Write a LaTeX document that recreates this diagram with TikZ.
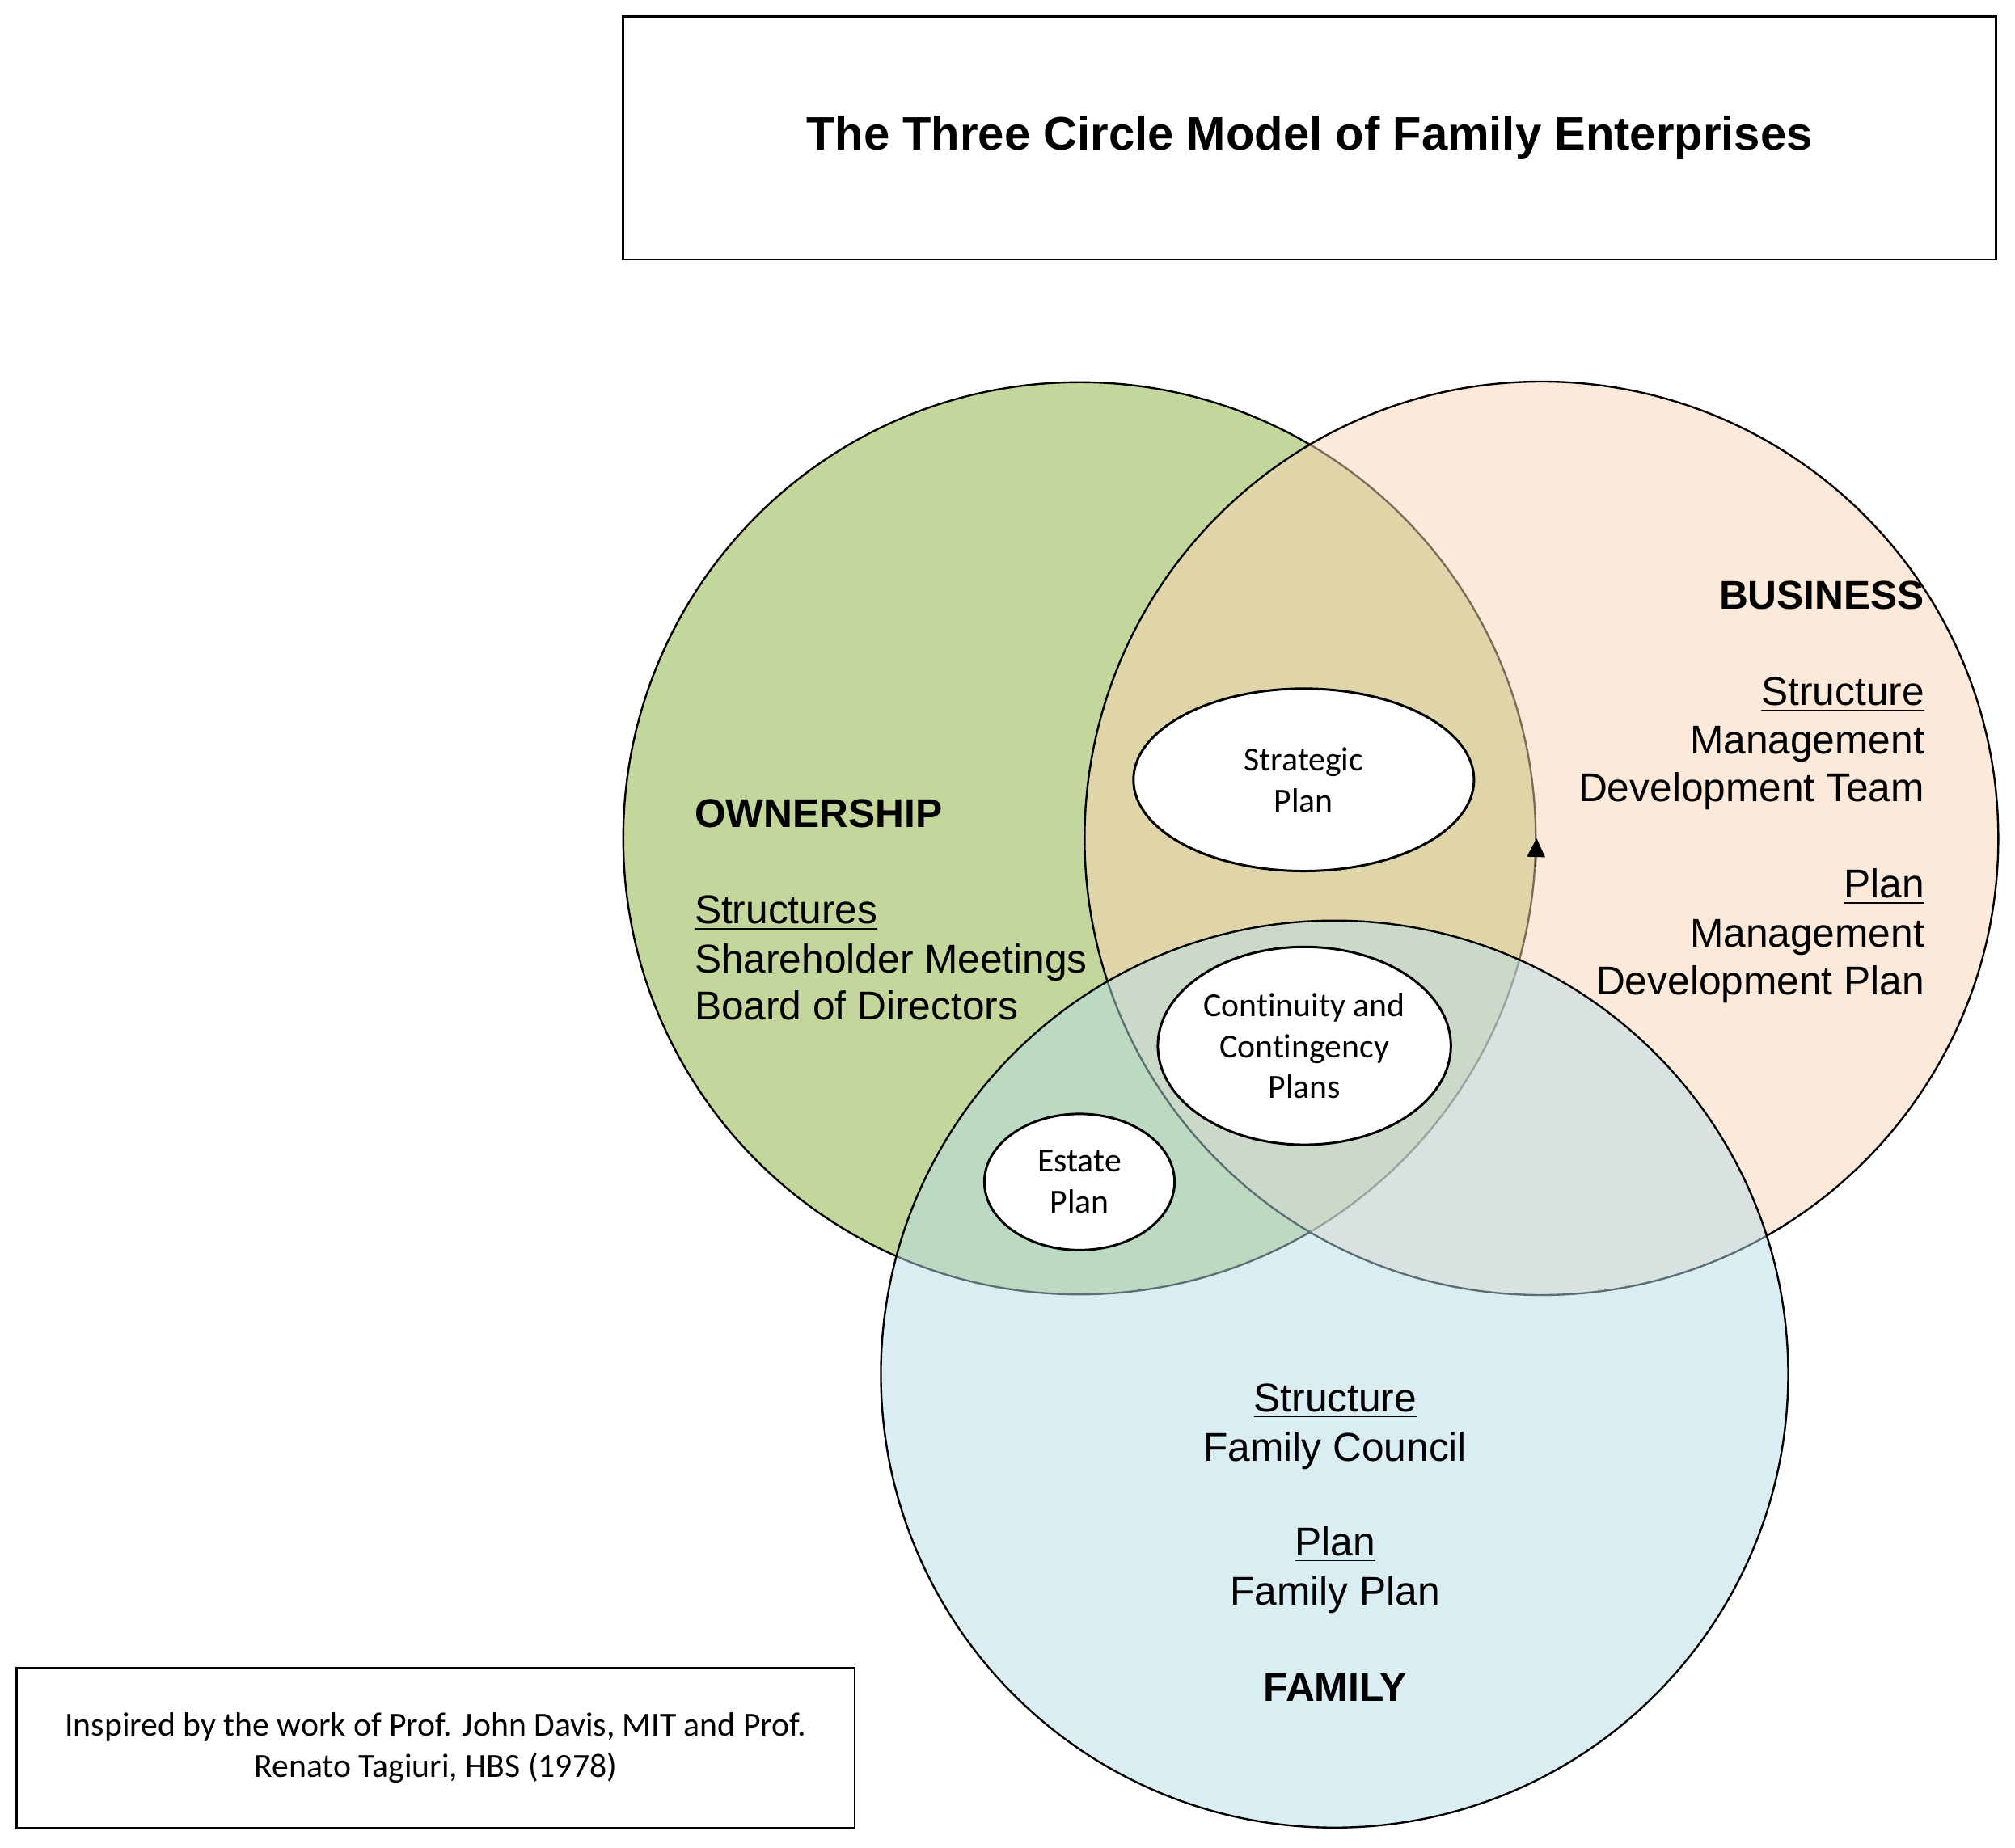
\documentclass[tikz,border=0pt]{standalone}
\usepackage{fontspec}
\setmainfont{Liberation Sans}
\newfontfamily\calib[Ligatures=NoCommon]{Carlito}
\usetikzlibrary{shapes.geometric,arrows.meta}
\definecolor{owngreen}{HTML}{C3D69B}
\definecolor{buspeach}{HTML}{FCD5B5}
\definecolor{famblue}{HTML}{B6DDE8}
\begin{document}
\begin{tikzpicture}[x=0.4pt,y=-0.4pt,
  big/.style={circle,draw=black,line width=0.6pt,inner sep=0pt},
  plan/.style={ellipse,draw=black,line width=0.75pt,fill=white,inner sep=0pt,align=center,font=\calib\fontsize{10.5}{12.8}\selectfont},
  frame/.style={rectangle,draw=black,line width=0.7pt,inner sep=0pt},
  lbl/.style={inner sep=0pt,font=\fontsize{12.5}{15}\selectfont},
  hdr/.style={inner sep=0pt,font=\bfseries\fontsize{12.5}{15}\selectfont}]
\fill[white] (0,0) rectangle (1568,1437.8);
\useasboundingbox (0,0) rectangle (1568,1437.8);

\node[frame,minimum width=427.2pt,minimum height=75.6pt,font=\bfseries\fontsize{14.6}{17}\selectfont] (title) at (1019,107.5) {The Three Circle Model of Family Enterprises};

\node[big,fill=owngreen,minimum size=284pt] (own) at (840,652.5) {};
\node[big,fill=buspeach,fill opacity=0.5,minimum size=284.4pt] (bus) at (1199.5,652.5) {};
\node[big,fill=famblue,fill opacity=0.5,minimum size=282.4pt] (fam) at (1038.5,1069.5) {};

\coordinate (arrowtail) at (1195,675);
\draw[line width=0.4pt,-{Triangle[length=5.8pt,width=5.6pt]}] (arrowtail) -- (own.east);

\node[plan,minimum width=106pt,minimum height=56.8pt] (strat) at (1014.5,607) {Strategic\\Plan};
\node[plan,minimum width=91.2pt,minimum height=61.6pt] (cont) at (1015,814) {Continuity and\\Contingency\\Plans};
\node[plan,minimum width=59.2pt,minimum height=42.4pt] (est) at (840,920) {Estate\\Plan};

\node[hdr,anchor=base west] (ownh) at (540,644) {OWNERSHIP};
\node[lbl,anchor=base west] (owns) at (540,719) {\underline{Structures}};
\node[lbl,anchor=base west] (owna) at (540,757) {Shareholder Meetings};
\node[lbl,anchor=base west] (ownb) at (540,794) {Board of Directors};

\node[hdr,anchor=base east] (bush) at (1498,474) {BUSINESS};
\node[lbl,anchor=base east] (buss) at (1498,549) {\underline{Structure}};
\node[lbl,anchor=base east] (busa) at (1498,587) {Management};
\node[lbl,anchor=base east] (busb) at (1498,624) {Development Team};
\node[lbl,anchor=base east] (busp) at (1498,699) {\underline{Plan}};
\node[lbl,anchor=base east] (busc) at (1498,737) {Management};
\node[lbl,anchor=base east] (busd) at (1498,774) {Development Plan};

\node[lbl,anchor=base] (fams) at (1039,1099) {\underline{Structure}};
\node[lbl,anchor=base] (fama) at (1039,1137) {Family Council};
\node[lbl,anchor=base] (famp) at (1039,1211) {\underline{Plan}};
\node[lbl,anchor=base] (famb) at (1039,1249) {Family Plan};
\node[hdr,anchor=base] (famh) at (1039,1324) {FAMILY};

\node[frame,minimum width=260.8pt,minimum height=50pt,align=center,font=\calib\fontsize{10.5}{12.8}\selectfont] (note) at (339,1360.5) {Inspired by the work of Prof. John Davis, MIT and Prof.\\Renato Tagiuri, HBS (1978)};
\end{tikzpicture}
\end{document}
